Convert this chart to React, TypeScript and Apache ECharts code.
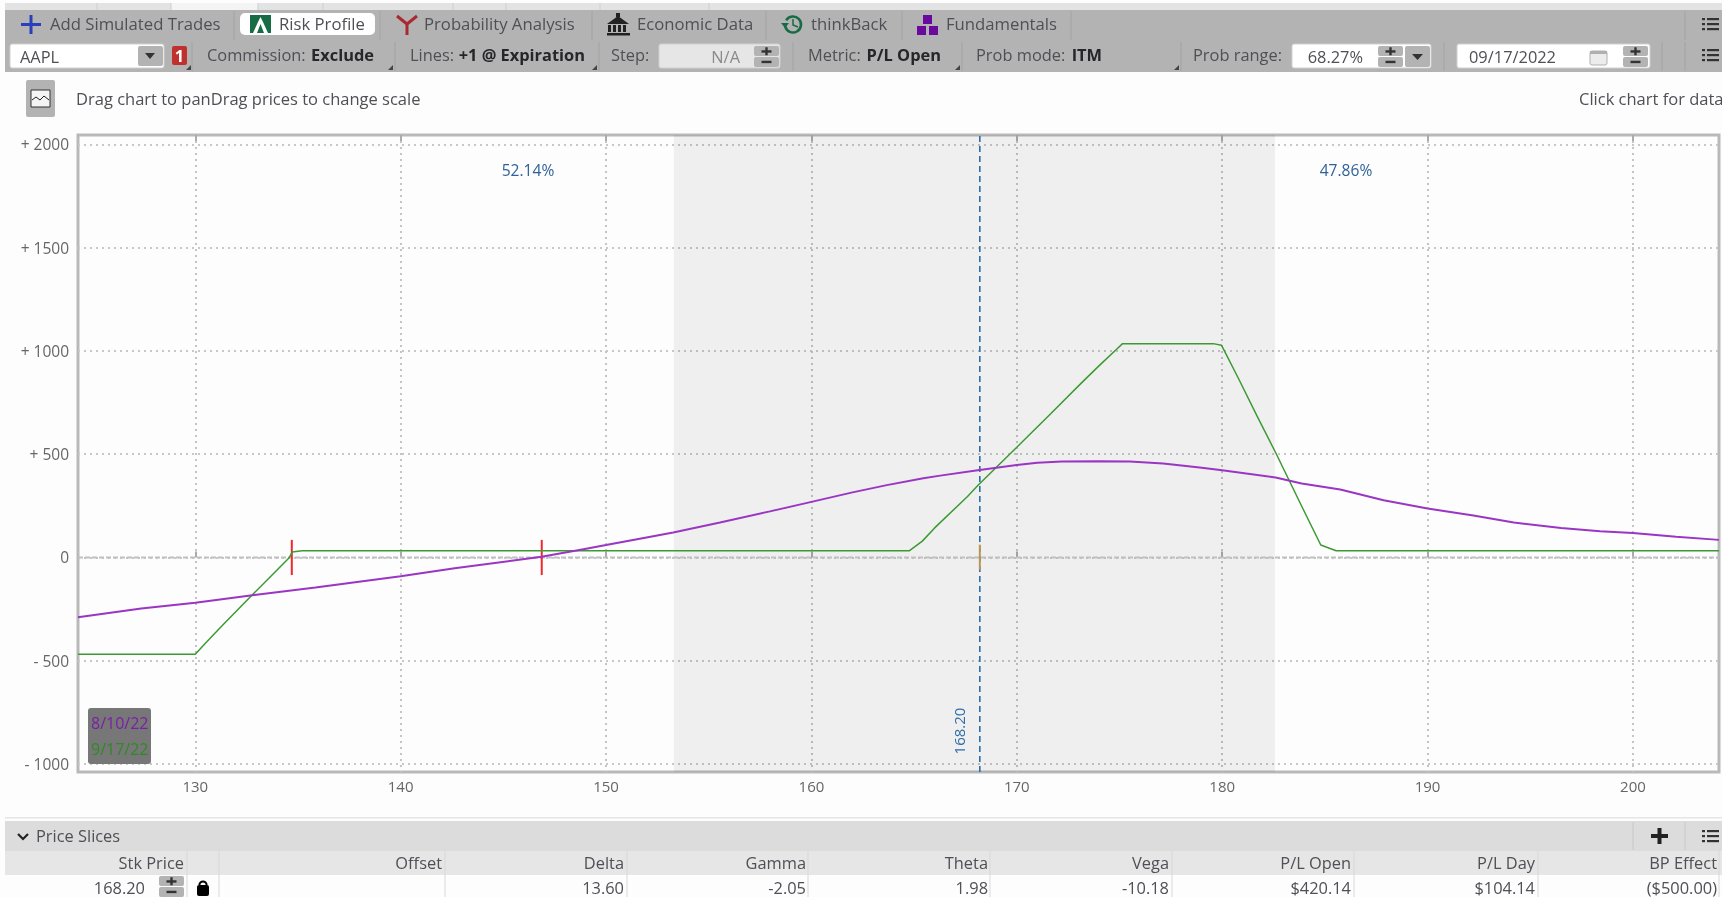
import React, { useEffect, useRef } from "react";
import * as echarts from "echarts";

const expiryPrices = [124.29, 130, 130.47, 131.28, 132.78, 133.68, 134.56, 134.72, 135.2, 164.76, 165.4, 166, 167.6, 168.1, 170, 171.65, 173.2, 174.05, 174.86, 175.15, 179.56, 179.97, 180.8, 181.7, 182.6, 183.95, 184.8, 185.55, 204.19];
const expiryPL = [-469, -469, -418, -333, -181, -91, -3, 26, 32, 32, 79, 143, 295, 348, 533, 696, 850, 932, 1008, 1035, 1035, 1027, 865, 684, 508, 232, 60, 32, 32];
const todayPrices = [124.29, 127.37, 130, 132.78, 135.85, 140, 142.63, 146.86, 148.9, 150, 151.97, 153.27, 155.55, 157.98, 160, 162, 163.67, 165.45, 166.27, 168.1, 170, 171, 172.2, 174, 175.5, 177.13, 178.9, 180, 182.6, 183.87, 185.75, 187.86, 190, 192.23, 194.2, 196.5, 198.4, 200, 202.1, 204.19];
const todayPL = [-289, -247, -219, -183, -145, -91, -52, 3, 40, 60, 97, 121, 169, 223, 269, 315, 350, 383, 396, 422, 447, 458, 464, 466, 464, 455, 435, 422, 387, 358, 329, 277, 237, 203, 169, 142, 127, 118, 100, 85];
const priceTicks = [130, 140, 150, 160, 170, 180, 190, 200];
const plTicks = [-1000, -500, 0, 500, 1000, 1500, 2000];
const breakevens = [134.7, 146.87];
const breakevenSpan = [-85, 85];
const currentPrice = 168.2;
const currentSpan = [-60, 62];
const probBand = [153.3, 182.57];
const xRange = [124.29, 204.19];
const yRange = [-1038.7, 2045];
const probLeft = "52.14%";
const probRight = "47.86%";
const columnNames = ["Stk Price", "Offset", "Delta", "Gamma", "Theta", "Vega", "P/L Open", "P/L Day", "BP Effect"];
const columnEnds = [184, 442, 624, 806, 988, 1169, 1351, 1535, 1717];
const rowValues = ["168.20", "", "13.60", "-2.05", "1.98", "-10.18", "$420.14", "$104.14", "($500.00)"];

const FONT = "'Open Sans', 'Noto Sans', sans-serif";
const TXT = "#4f4f55";
const TAB = 16.7;

const zip = (a: number[], b: number[]) => a.map((v, i) => [v, b[i]]);

const text = (x: number, y: number, s: string, o: any = {}) => ({
  type: "text", x, y, z: o.z ?? 10, rotation: o.rotation ?? 0,
  style: {
    text: s, fontFamily: FONT, fontSize: o.size ?? 16.4, fontWeight: o.bold ? 700 : 400,
    fill: o.color ?? TXT, align: o.align ?? "left", verticalAlign: "middle",
  },
});
const rect = (x: number, y: number, w: number, h: number, fill: string, o: any = {}) => ({
  type: "rect", z: o.z ?? 5, shape: { x, y, width: w, height: h, r: o.r ?? 0 },
  style: { fill, stroke: o.stroke, lineWidth: o.stroke ? 1 : 0 },
});
const sep = (x: number, y0: number, y1: number, c = "#a3a3a3") => ({
  type: "line", z: 6, shape: { x1: x, y1: y0, x2: x, y2: y1 }, style: { stroke: c, lineWidth: 1 },
});
const spinner = (x: number, y: number, w = 25, h = 21) => [
  rect(x, y, w, h / 2 - 0.5, "#b3b3b3", { r: 2, z: 7 }),
  rect(x, y + h / 2 + 0.5, w, h / 2 - 0.5, "#b3b3b3", { r: 2, z: 7 }),
  rect(x + w / 2 - 5, y + h / 4 - 1, 10, 2.4, "#333", { z: 8 }),
  rect(x + w / 2 - 1.2, y + h / 4 - 4, 2.4, 8, "#333", { z: 8 }),
  rect(x + w / 2 - 5, y + (3 * h) / 4 - 1, 10, 2.4, "#333", { z: 8 }),
];
const listIcon = (x: number, y: number) =>
  [-5, 0, 5].flatMap((d) => [
    rect(x - 8, y + d - 1, 3, 2.2, "#333", { z: 8 }),
    rect(x - 3, y + d - 1, 12, 2.2, "#333", { z: 8 }),
  ]);
const poly = (pts: number[][], fill: string, z = 8) => ({
  type: "polygon", z, shape: { points: pts }, style: { fill },
});
const corner = (x: number, y: number) => poly([[x, y], [x, y - 5], [x - 5, y]], "#444");

function buildGraphics() {
  const g: any[] = [];
  // top strip
  g.push(rect(5, 3, 1717, 7, "#e3e3e3", { z: 1 }));
  g.push(rect(171, 3, 87, 7, "#f4f4f4", { z: 1 }));
  [97, 171, 258, 323, 453, 506, 600, 709].forEach((x) => g.push(sep(x, 3, 10, "#cfcfcf")));
  // toolbar
  g.push(rect(5, 10, 1717, 62, "#b3b3b3", { z: 1 }));
  [234, 380, 592, 766, 902, 1071, 1685].forEach((x) => g.push(sep(x, 11, 40)));
  [192, 395, 599, 793, 962, 1181, 1444, 1662, 1685].forEach((x) => g.push(sep(x, 42, 71)));

  g.push(rect(29.5, 15, 3, 19, "#2c3fbb", { z: 8 }), rect(21, 23, 20, 3, "#2c3fbb", { z: 8 }));
  g.push(text(50, 23, "Add Simulated Trades", { size: TAB }));
  g.push(rect(240, 13, 135, 22, "#ffffff", { r: 5 }));
  g.push(rect(250, 15, 21, 18, "#176b45", { z: 8 }), poly([[253, 33], [258, 22], [260.5, 17], [263, 22], [268, 33], [264, 33], [260.5, 24], [257, 33]], "#ffffff", 9));
  g.push(text(279, 23, "Risk Profile", { size: TAB }));
  g.push({ type: "polyline", z: 8, shape: { points: [[397, 16], [407, 24], [417, 16]] }, style: { stroke: "#a82a30", lineWidth: 3, fill: "none" } });
  g.push(rect(405.5, 23, 3, 12, "#a82a30", { z: 8 }));
  g.push(text(424, 23, "Probability Analysis", { size: TAB }));
  g.push(poly([[607, 24], [618, 16], [629, 24]], "#222"), rect(616, 13, 4, 4, "#222", { z: 8 }), rect(607, 33, 23, 2.5, "#222", { z: 8 }));
  [608, 613, 618, 623].forEach((x) => g.push(rect(x, 25, 3, 7, "#222", { z: 8 })));
  g.push(text(637, 23, "Economic Data", { size: TAB }));
  g.push({ type: "arc", z: 8, shape: { cx: 793, cy: 24.5, r: 8, startAngle: -2.6, endAngle: 2.9 }, style: { stroke: "#176b45", lineWidth: 2.5, fill: "none" } });
  g.push(poly([[781, 23], [789, 23], [785, 28]], "#176b45"), { type: "polyline", z: 8, shape: { points: [[793, 19], [793, 25], [798, 27]] }, style: { stroke: "#176b45", lineWidth: 1.5, fill: "none" } });
  g.push(text(811, 23, "thinkBack", { size: TAB }));
  g.push(rect(923, 15, 9, 9, "#6a0a9c", { z: 8 }), rect(917, 26, 9, 9, "#6a0a9c", { z: 8 }), rect(929, 26, 9, 9, "#6a0a9c", { z: 8 }));
  g.push(text(946, 23, "Fundamentals", { size: TAB }));
  g.push(...listIcon(1710, 24), ...listIcon(1710, 55));

  // second row
  g.push(rect(10, 44, 154, 24, "#ffffff", { r: 2, stroke: "#d0d0d0" }));
  g.push(text(20, 56, "AAPL"));
  g.push(rect(138, 46, 25, 20, "#b3b3b3", { r: 2, z: 7 }), poly([[145, 53], [155, 53], [150, 59]], "#333"));
  g.push(rect(172, 46, 15, 19, "#c0302e", { r: 2, z: 7 }), text(179.5, 55.5, "1", { color: "#fff", align: "center", bold: true }));
  g.push(text(207, 54.5, "Commission:"), text(374, 54.5, "Exclude", { bold: true, align: "right", color: "#26262a" }), corner(191, 70), corner(393, 70));
  g.push(text(410, 54.5, "Lines:"), text(585, 54.5, "+1 @ Expiration", { bold: true, align: "right", color: "#26262a" }), corner(597, 70));
  g.push(text(611, 54.5, "Step:"));
  g.push(rect(659, 44, 121, 24, "#e6e6e6", { r: 2, stroke: "#d0d0d0" }), text(740, 56, "N/A", { align: "right", color: "#8a8a8a" }), ...spinner(754, 46));
  g.push(text(808, 54.5, "Metric:"), text(941, 54.5, "P/L Open", { bold: true, align: "right", color: "#26262a" }), corner(960, 70));
  g.push(text(976, 54.5, "Prob mode:"), text(1102, 54.5, "ITM", { bold: true, align: "right", color: "#26262a" }), corner(1179, 70));
  g.push(text(1193, 54.5, "Prob range:"));
  g.push(rect(1292, 44, 139, 24, "#ffffff", { r: 2, stroke: "#d0d0d0" }), text(1363, 56, "68.27%", { align: "right" }), ...spinner(1378, 46));
  g.push(rect(1405, 46, 25, 21, "#b3b3b3", { r: 2, z: 7 }), poly([[1412, 54], [1423, 54], [1417.5, 60]], "#333"));
  g.push(rect(1457, 44, 193, 24, "#ffffff", { r: 2, stroke: "#d0d0d0" }), text(1469, 56, "09/17/2022"), ...spinner(1623, 46));
  g.push(rect(1590, 51, 17, 14, "#ececec", { r: 2, z: 7, stroke: "#b0b0b0" }), rect(1590, 51, 17, 3, "#b0b0b0", { z: 8 }));

  // third row
  g.push(rect(26, 80, 29, 37, "#b3b3b3", { r: 2 }));
  g.push(rect(31, 90, 19, 17, "#f4f4f4", { z: 6, stroke: "#333" }));
  g.push({ type: "polyline", z: 8, shape: { points: [[32, 100], [36, 97], [40, 100], [44, 96], [49, 100]] }, style: { stroke: "#222", lineWidth: 1, fill: "none" } });
  g.push(text(76, 98.5, "Drag chart to panDrag prices to change scale", { size: 16.5 }));
  g.push(text(1579, 98.5, "Click chart for data", { size: 16.5 }));

  // chart annotations
  g.push(text(528, 170, probLeft, { align: "center", color: "#2f6299", size: 15.6 }));
  g.push(text(1346, 170, probRight, { align: "center", color: "#2f6299", size: 15.6 }));
  g.push(text(959, 731, currentPrice.toFixed(2), { align: "center", color: "#2f6ea8", size: 15, rotation: Math.PI / 2 }));
  g.push(rect(88, 708, 63, 56, "#777777", { r: 3, z: 20 }));
  g.push(text(91, 723, "8/10/22", { color: "#7a1fa8", z: 21, size: 16 }));
  g.push(text(91, 749, "9/17/22", { color: "#2f8a24", z: 21, size: 16 }));

  // table
  g.push(rect(5, 817, 1717, 1.5, "#e6e6e6", { z: 1 }));
  g.push(rect(5, 821, 1717, 30, "#dcdcdc", { z: 1 }));
  g.push(rect(5, 851, 1717, 24, "#e6e6e6", { z: 1 }));
  g.push({ type: "polyline", z: 8, shape: { points: [[18, 834], [23, 839], [28, 834]] }, style: { stroke: "#222", lineWidth: 2.2, fill: "none" } });
  g.push(text(36, 835.5, "Price Slices"));
  g.push(sep(1633, 822, 850, "#c8c8c8"), sep(1685, 822, 850, "#c8c8c8"));
  g.push(rect(1651, 834, 17, 4, "#222", { z: 8 }), rect(1657.5, 828, 4, 16, "#222", { z: 8 }));
  g.push(...listIcon(1710, 836));
  [187, 219, 445, 627, 808, 990, 1172, 1354, 1538, 1719].forEach((x) => g.push(sep(x, 851, 897, "#d8d8d8")));
  columnNames.forEach((n, i) => g.push(text(columnEnds[i], 862.5, n, { align: "right" })));
  rowValues.forEach((v, i) => {
    if (v) g.push(text(i === 0 ? 145 : columnEnds[i], 887, v, { align: "right" }));
  });
  g.push(...spinner(159, 876, 25, 21));
  g.push(rect(197, 885, 12, 11, "#000", { r: 2, z: 8 }), { type: "arc", z: 8, shape: { cx: 203, cy: 885, r: 3.6, startAngle: Math.PI, endAngle: 0 }, style: { stroke: "#000", lineWidth: 2, fill: "none" } });
  return g;
}

function buildOption() {
  const plain = { type: "line" as const, showSymbol: false, symbol: "none", silent: true, animation: false };
  const priceAxis = {
    type: "value" as const, min: xRange[0], max: xRange[1],
    axisLine: { show: false },
    axisTick: { show: true, inside: true, length: 6, customValues: priceTicks, lineStyle: { color: "#ababab", width: 2 } },
  };
  return {
    animation: false,
    backgroundColor: "transparent",
    graphic: { elements: buildGraphics() },
    grid: { left: 78, right: 3, top: 135, bottom: 125, show: true, borderColor: "#b9b9b9", borderWidth: 3 },
    xAxis: [
      {
        ...priceAxis, position: "bottom",
        axisLabel: { show: true, customValues: priceTicks, color: "#666", fontFamily: FONT, fontSize: 15, margin: 6 },
        splitLine: { show: true, lineStyle: { color: "#c4c4c4", type: [2, 4], width: 2 } },
      },
      { ...priceAxis, position: "top", axisLabel: { show: false }, splitLine: { show: false } },
    ],
    yAxis: {
      type: "value", min: yRange[0], max: yRange[1],
      axisLine: { show: false }, axisTick: { show: false, customValues: plTicks },
      axisLabel: {
        customValues: plTicks, color: "#666", fontFamily: FONT, fontSize: 15.5, margin: 9,
        formatter: (v: number) => (v > 0 ? `+ ${v}` : v < 0 ? `- ${-v}` : "0"),
      },
      splitLine: { show: true, lineStyle: { color: "#c8c8c8", type: [2, 4], width: 2 } },
    },
    series: [
      {
        ...plain, name: "zero", data: [[xRange[0], 0], [xRange[1], 0]], z: 3,
        lineStyle: { color: "#c0c0c0", width: 2, type: [5, 2] },
        markArea: {
          silent: true, itemStyle: { color: "rgba(0,0,0,0.055)" },
          data: [[{ xAxis: probBand[0] }, { xAxis: probBand[1] }]],
        },
      },
      ...breakevens.map((b, i) => ({
        ...plain, name: `breakeven ${i + 1}`, data: zip([b, b], breakevenSpan), z: 6,
        lineStyle: { color: "#f0282c", width: 2 },
      })),
      {
        ...plain, name: "current", data: zip([currentPrice, currentPrice], yRange), z: 5,
        lineStyle: { color: "#2f6ea8", width: 1.6, type: [6, 4] },
      },
      {
        ...plain, name: "current span", data: zip([currentPrice, currentPrice], currentSpan), z: 6,
        lineStyle: { color: "#b8965a", width: 2 },
      },
      { ...plain, name: "9/17/22", data: zip(expiryPrices, expiryPL), z: 7, lineStyle: { color: "#3c9a32", width: 1.5 } },
      { ...plain, name: "8/10/22", data: zip(todayPrices, todayPL), z: 8, lineStyle: { color: "#9a35c4", width: 2 } },
    ],
  };
}

export default function App() {
  const ref = useRef<HTMLDivElement>(null);
  useEffect(() => {
    document.body.style.margin = "0";
    document.body.style.overflow = "hidden";
    const chart = echarts.init(ref.current!, undefined, { renderer: "svg" });
    chart.setOption(buildOption() as any);
    return () => chart.dispose();
  }, []);
  return <div ref={ref} style={{ width: 1722, height: 897, background: "#fdfdfd", filter: "blur(0.4px)" }} />;
}
